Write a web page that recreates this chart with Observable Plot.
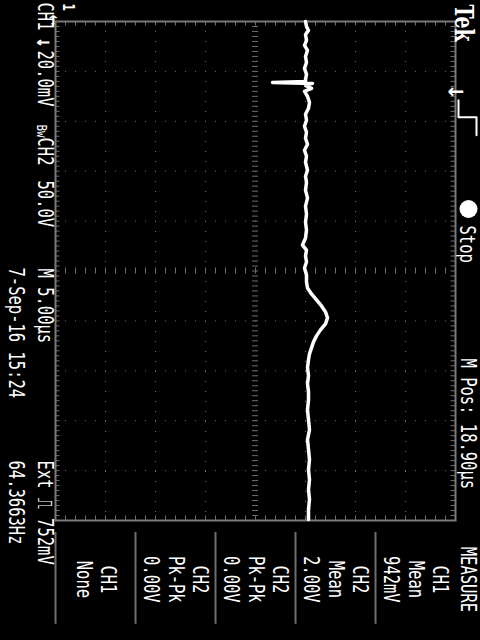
<!DOCTYPE html>
<html><head><meta charset="utf-8">
<script src="https://cdn.jsdelivr.net/npm/d3@7"></script>
<script src="https://cdn.jsdelivr.net/npm/@observablehq/plot@0.6"></script>
<style>html,body{margin:0;padding:0;background:#000;}</style>
</head><body><div id="chart"></div>
<script>
// CH1 trace: time in µs from the left edge of the record, voltage in mV from screen centre
const traceTime = [0.0,0.5,0.9,1.3,1.9,2.4,2.9,3.5,4.1,4.7,5.3,5.8,6.0,6.1,6.2,6.4,6.7,7.0,7.5,8.1,8.7,9.3,9.9,10.5,11.1,11.7,12.3,12.9,13.5,14.1,14.9,15.5,16.1,16.9,17.7,18.5,19.3,20.1,20.9,21.7,22.4,22.9,23.5,24.1,24.7,25.4,26.1,26.7,27.3,27.9,28.5,29.1,29.7,30.3,30.9,31.5,32.1,32.7,33.3,33.9,34.7,35.5,36.3,37.1,37.9,38.9,39.9,40.9,41.9,42.9,43.9,44.9,45.9,46.9,47.9,48.9,49.9];
const traceVolt = [20.0,20.4,21.2,20.0,20.4,19.6,20.8,20.0,20.4,19.6,20.4,20.0,20.0,6.8,22.8,20.0,22.4,19.6,20.8,21.6,21.2,20.0,20.4,19.6,20.4,20.0,20.8,19.6,20.4,20.0,20.8,20.0,20.4,20.0,20.8,20.0,20.4,20.0,20.4,20.0,18.8,20.4,20.0,20.4,19.6,20.4,20.4,20.8,22.4,24.4,26.4,28.0,28.8,28.0,26.0,24.4,23.2,22.4,21.6,21.2,20.8,21.2,20.8,21.2,21.2,20.8,21.2,21.6,20.8,21.2,21.6,21.2,21.6,21.2,21.6,21.2,21.2];

// graticule: 8 vertical divisions of 20 mV, 10 time divisions of 5 µs
const voltDivs = [-80,-60,-40,-20,0,20,40,60,80];
const timeDivs = [0,5,10,15,20,25,30,35,40,45,50];

// on-screen readouts
const ch1Scale = "20.0mV";
const ch2Scale = "50.0V";
const timebase = "M 5.00µs";
const trigger = "Ext ⎍ 752mV";
const dateStamp = "7-Sep-16 15:24";
const freq = "64.3663Hz";
const runState = "Stop";
const mPos = "M Pos: 18.90µs";
const menuTitle = "MEASURE";
const menuCols = [["CH1","None"],["CH2","Pk-Pk","0.00V"],["CH2","Pk-Pk","0.00V"],["CH2","Mean","2.00V"],["CH1","Mean","942mV"]];

const trace = traceTime.map((t,i)=>({t, v: traceVolt[i]}));
const xMinor = d3.range(-80, 80.001, 4);
const tMinor = d3.range(0, 50.001, 0.5);

const W = 480, H = 640, ML = 55, MR = 25, MT = 21, MB = 120;
const FONT = "DejaVu Sans Mono";
const FS = 15.5;
const G = "#6e6e6e";

// px helpers for the out-of-frame readouts (converted to data units)
const vx = px => (px - 255) * 0.4;
const ty = py => (py - MT) * 0.1;

const menuSep = [-80,-48,-16,16,48];
const menuTable = [];
menuCols.forEach((col, i) => {
  const c = -64 + 32*i;
  col.forEach((txt, j) => {
    menuTable.push({text: txt, v: c + ((col.length-1)/2 - j)*9.8, t: ty(580)});
  });
});

function lab(text, cx, y0, opt = {}) {
  return Plot.text([text], {
    frameAnchor: "top-left", dx: cx - ML, dy: y0 - MT, rotate: 90,
    textAnchor: "start", lineAnchor: "middle", fill: "white",
    fontFamily: FONT, fontSize: FS, ...opt
  });
}

const chart = Plot.plot({
  width: W, height: H,
  marginLeft: ML, marginRight: MR, marginTop: MT, marginBottom: MB,
  style: {background: "black", color: "white"},
  x: {domain: [-80, 80], axis: null},
  y: {domain: [0, 50], reverse: true, axis: null},
  marks: [
    // dotted graticule
    Plot.ruleX(voltDivs.filter(d => d !== 0 && Math.abs(d) !== 80), {stroke: G, strokeDasharray: "1,9"}),
    Plot.ruleY(timeDivs.filter(d => d !== 25 && d !== 0 && d !== 50), {stroke: G, strokeDasharray: "1,9"}),
    // centre-line ticks
    Plot.ruleY(tMinor, {y: d => d, x1: -1.2, x2: 1.2, stroke: G}),
    Plot.ruleX(xMinor, {x: d => d, y1: 24.7, y2: 25.3, stroke: G}),
    // border ticks
    Plot.ruleX(xMinor, {x: d => d, y1: 0, y2: 0.45, stroke: G}),
    Plot.ruleX(xMinor, {x: d => d, y1: 49.55, y2: 50, stroke: G}),
    Plot.ruleY(tMinor, {y: d => d, x1: -80, x2: -78.2, stroke: G}),
    Plot.ruleY(tMinor, {y: d => d, x1: 78.2, x2: 80, stroke: G}),
    Plot.frame({stroke: "#7a7a7a", strokeWidth: 2}),
    // the trace
    Plot.line(trace, {x: "v", y: "t", stroke: "white", strokeWidth: 3.5}),
    // trigger position marker
    Plot.text(["←"], {frameAnchor: "top-left", dx: 447 - ML, dy: 83 - MT, fill: "white", fontFamily: "DejaVu Sans", fontSize: 20, fontWeight: "bold"}),
    // CH1 ground marker
    Plot.text(["1"], {frameAnchor: "top-left", dx: 68 - ML, dy: 3 - MT, rotate: 90, textAnchor: "start", lineAnchor: "middle", fill: "white", fontFamily: FONT, fontSize: 12, fontWeight: "bold"}),
    Plot.text(["←"], {frameAnchor: "top-left", dx: 60 - ML, dy: 14 - MT, rotate: 90, fill: "white", fontFamily: "DejaVu Sans", fontSize: 13, fontWeight: "bold"}),
    // menu separators
    Plot.ruleX(menuSep, {x: d => d, y1: ty(533), y2: ty(625), stroke: G, strokeWidth: 2, clip: false}),
    Plot.text(menuTable, {x: "v", y: "t", text: "text", rotate: 90, fill: "white", fontFamily: FONT, fontSize: FS, clip: false}),
    Plot.text([menuTitle], {x: () => vx(467), y: () => ty(580), rotate: 90, fill: "white", fontFamily: FONT, fontSize: FS}),
    // left readouts
    lab("CH1", 44, 2),
    lab("↓", 44, 37, {fontSize: 17, fontWeight: "bold"}),
    lab(ch1Scale, 44, 50),
    lab("Bw", 41, 124, {fontSize: 11}),
    lab("CH2", 44, 137),
    lab(ch2Scale, 44, 180),
    lab(timebase, 44, 268),
    lab(trigger, 44, 460),
    lab(dateStamp, 15, 267),
    lab(freq, 15, 460),
    // right readouts
    lab("Tek", 463, 4, {fontFamily: "DejaVu Serif", fontSize: 19, fontWeight: "bold"}),
    Plot.line([[458,100],[458,117],[476,117],[476,135]], {x: d => vx(d[0]), y: d => ty(d[1]), stroke: "white", strokeWidth: 2, clip: false}),
    Plot.dot([0], {frameAnchor: "top-left", dx: 468 - ML, dy: 208.5 - MT, r: 9, fill: "white"}),
    lab(runState, 466, 225),
    lab(mPos, 467, 358)
  ]
});

d3.select(chart).selectAll("text").each(function() {
  const t = this.getAttribute("transform");
  if (t && t.includes("rotate(90)")) this.setAttribute("transform", t + " scale(1,1.35)");
});
document.getElementById("chart").appendChild(chart);
</script>
</body></html>
